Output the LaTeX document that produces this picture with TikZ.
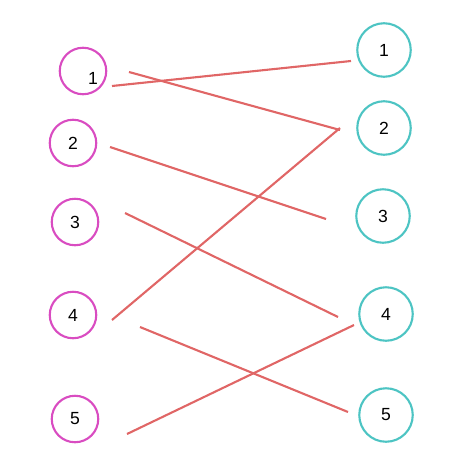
\documentclass[tikz,border=0pt]{standalone}
\usepackage{fontspec}
\setmainfont{Liberation Sans}
\definecolor{lcol}{HTML}{D94CC1}
\definecolor{rcol}{HTML}{4DC4C3}
\definecolor{linkcol}{HTML}{E06666}

\begin{document}
\begin{tikzpicture}[
  x=0.02cm, y=-0.02cm,
  lnode/.style={circle, draw=lcol, line width=1.2pt, minimum size=0.93cm, inner sep=0pt, font=\fontsize{10}{12}\selectfont},
  rnode/.style={circle, draw=rcol, line width=1.2pt, minimum size=1.07cm, inner sep=0pt, font=\fontsize{10}{12}\selectfont},
  link/.style={draw=linkcol, line width=1.2pt}
]
\useasboundingbox (0,0) rectangle (472,470);

\node[lnode, label={[shift={(10,7)}, font=\fontsize{10}{12}\selectfont]center:1}] (l1) at (83,71) {};
\node[lnode] (l2) at (73,143) {2};
\node[lnode] (l3) at (75,222) {3};
\node[lnode] (l4) at (73,315) {4};
\node[lnode] (l5) at (75,419) {5};

\node[rnode] (r1) at (384,50)  {1};
\node[rnode] (r2) at (384,128) {2};
\node[rnode] (r3) at (383,216) {3};
\node[rnode] (r4) at (386,314) {4};
\node[rnode] (r5) at (386,415) {5};

% line ends
\coordinate (s1) at (112,86);  \coordinate (t1) at (351,61);
\coordinate (s2) at (129,72);  \coordinate (t2) at (340,130);
\coordinate (s3) at (110,147); \coordinate (t3) at (326,219);
\coordinate (s4) at (125,213); \coordinate (t4) at (338,317);
\coordinate (s5) at (112,320); \coordinate (t5) at (340,128);
\coordinate (s6) at (140,327); \coordinate (t6) at (348,412);
\coordinate (s7) at (127,434); \coordinate (t7) at (354,325);

\foreach \i in {1,...,7}
  \draw[link] (s\i) -- (t\i);
\end{tikzpicture}
\end{document}
